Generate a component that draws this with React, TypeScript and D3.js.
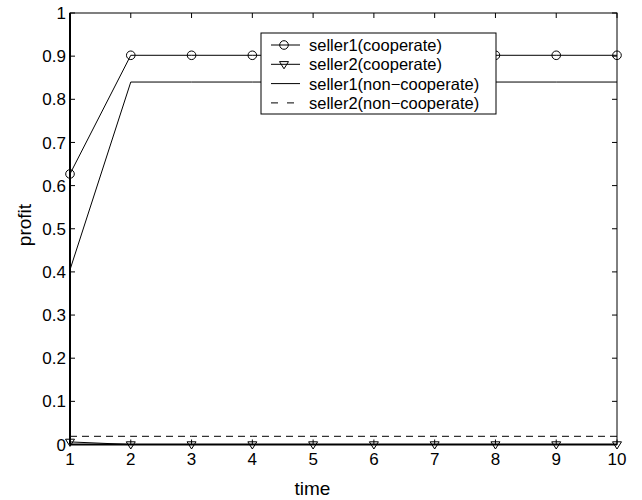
import React, { useEffect, useRef } from 'react';
import * as d3 from 'd3';

const times = [1, 2, 3, 4, 5, 6, 7, 8, 9, 10];
const seller1Coop = [0.627, 0.902, 0.902, 0.902, 0.902, 0.902, 0.902, 0.902, 0.902, 0.902];
const seller2Coop = [0.006, 0, 0, 0, 0, 0, 0, 0, 0, 0];
const seller1NonCoop = [0.405, 0.84, 0.84, 0.84, 0.84, 0.84, 0.84, 0.84, 0.84, 0.84];
const seller2NonCoop = [0.019, 0.019, 0.019, 0.019, 0.019, 0.019, 0.019, 0.019, 0.019, 0.019];
const yTicks = [0, 0.1, 0.2, 0.3, 0.4, 0.5, 0.6, 0.7, 0.8, 0.9, 1];
const legendLabels = ['seller1(cooperate)', 'seller2(cooperate)', 'seller1(non\u2212cooperate)', 'seller2(non\u2212cooperate)'];

const FONT = 'Liberation Sans, Arial, Helvetica, sans-serif';

function App() {
  const ref = useRef<SVGSVGElement>(null);

  useEffect(() => {
    const svg = d3.select(ref.current);
    svg.selectAll('*').remove();

    const left = 70, right = 617, top = 13, bottom = 444.5;
    const x = d3.scaleLinear().domain([1, 10]).range([left, right]);
    const y = d3.scaleLinear().domain([0, 1]).range([bottom, top]);

    const g = svg.append('g');

    // frame
    g.append('rect')
      .attr('x', left).attr('y', top)
      .attr('width', right - left).attr('height', bottom - top)
      .attr('fill', 'none').attr('stroke', '#000').attr('stroke-width', 1);

    // inward ticks, all four sides
    const tl = 5;
    g.selectAll('.ytl').data(yTicks).enter().append('line')
      .attr('x1', left).attr('x2', left + tl)
      .attr('y1', d => y(d)).attr('y2', d => y(d))
      .attr('stroke', '#000');
    g.selectAll('.ytr').data(yTicks).enter().append('line')
      .attr('x1', right).attr('x2', right - tl)
      .attr('y1', d => y(d)).attr('y2', d => y(d))
      .attr('stroke', '#000');
    g.selectAll('.xtb').data(times).enter().append('line')
      .attr('x1', d => x(d)).attr('x2', d => x(d))
      .attr('y1', bottom).attr('y2', bottom - tl)
      .attr('stroke', '#000');
    g.selectAll('.xtt').data(times).enter().append('line')
      .attr('x1', d => x(d)).attr('x2', d => x(d))
      .attr('y1', top).attr('y2', top + tl)
      .attr('stroke', '#000');

    // heavier left / bottom axes
    g.append('line').attr('x1', left).attr('x2', left).attr('y1', top).attr('y2', bottom)
      .attr('stroke', '#000').attr('stroke-width', 2);
    g.append('line').attr('x1', left).attr('x2', right).attr('y1', bottom).attr('y2', bottom)
      .attr('stroke', '#000').attr('stroke-width', 2);

    g.selectAll('.ylab').data(yTicks).enter().append('text')
      .attr('x', left - 4).attr('y', d => y(d))
      .attr('dy', '0.36em')
      .attr('text-anchor', 'end')
      .attr('font-family', FONT).attr('font-size', 17)
      .text(d => d3.format('~g')(d));
    g.selectAll('.xlab').data(times).enter().append('text')
      .attr('x', d => x(d)).attr('y', bottom + 20)
      .attr('text-anchor', 'middle')
      .attr('font-family', FONT).attr('font-size', 17)
      .text(d => d);

    g.append('text')
      .attr('x', 312.5).attr('y', 495)
      .attr('text-anchor', 'middle')
      .attr('font-family', FONT).attr('font-size', 19)
      .text('time');
    g.append('text')
      .attr('transform', `translate(31,225) rotate(-90)`)
      .attr('text-anchor', 'middle')
      .attr('font-family', FONT).attr('font-size', 19)
      .text('profit');

    const line = d3.line<number>().x((d, i) => x(times[i])).y(d => y(d));

    const series = [
      { data: seller1Coop, dash: null, marker: 'circle' },
      { data: seller2Coop, dash: null, marker: 'tri' },
      { data: seller1NonCoop, dash: null, marker: null },
      { data: seller2NonCoop, dash: '7,5', marker: null },
    ];

    const drawMarker = (sel: any, kind: string | null, cx: number, cy: number) => {
      if (kind === 'circle') {
        sel.append('circle').attr('cx', cx).attr('cy', cy).attr('r', 4.3)
          .attr('fill', 'none').attr('stroke', '#000').attr('stroke-width', 1);
      } else if (kind === 'tri') {
        const s = 4.5;
        sel.append('path')
          .attr('d', `M${cx - s},${cy - s * 0.6}L${cx + s},${cy - s * 0.6}L${cx},${cy + s}Z`)
          .attr('fill', 'none').attr('stroke', '#000').attr('stroke-width', 1);
      }
    };

    series.forEach(s => {
      g.append('path')
        .attr('d', line(s.data))
        .attr('fill', 'none')
        .attr('stroke', '#000')
        .attr('stroke-width', 1)
        .attr('stroke-dasharray', s.dash);
      if (s.marker) {
        s.data.forEach((v, i) => drawMarker(g, s.marker, x(times[i]), y(v)));
      }
    });

    // legend box
    const lx = 261, ly = 33, lw = 235, lh = 81;
    const lg = svg.append('g');
    lg.append('rect').attr('x', lx).attr('y', ly).attr('width', lw).attr('height', lh)
      .attr('fill', '#fff').attr('stroke', '#000').attr('stroke-width', 1);
    series.forEach((s, i) => {
      const cy = ly + 12 + i * 19.3;
      lg.append('line')
        .attr('x1', lx + 10).attr('x2', lx + 39)
        .attr('y1', cy).attr('y2', cy)
        .attr('stroke', '#000').attr('stroke-width', 1)
        .attr('stroke-dasharray', s.dash ? '7,9' : null);
      drawMarker(lg, s.marker, lx + 23, cy);
      lg.append('text')
        .attr('x', lx + 48).attr('y', cy)
        .attr('dy', '0.36em')
        .attr('font-family', FONT).attr('font-size', 16.5)
        .text(legendLabels[i]);
    });
  }, []);

  return (
    <svg ref={ref} width={642} height={500}
      style={{ position: 'absolute', left: 0, top: 0, background: '#fff' }} />
  );
}

export default App;
